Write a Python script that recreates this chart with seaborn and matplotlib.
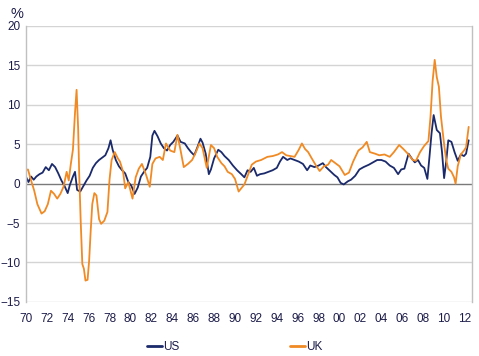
import numpy as np
import pandas as pd
import matplotlib
matplotlib.use('Agg')
import matplotlib.pyplot as plt
import seaborn as sns

# US series (decimal year, %)
us_year = [1970.0, 1970.25, 1970.5, 1970.75, 1971.0, 1971.3, 1971.6, 1971.9, 1972.2, 1972.5,
           1972.8, 1973.1, 1973.4, 1973.7, 1974.0, 1974.2, 1974.5, 1974.7, 1974.9, 1975.2,
           1975.5, 1975.8, 1976.1, 1976.4, 1976.7, 1977.0, 1977.3, 1977.6, 1977.9, 1978.1,
           1978.3, 1978.6, 1978.9, 1979.2, 1979.5, 1979.8, 1980.1, 1980.4, 1980.7, 1981.0,
           1981.3, 1981.6, 1981.9, 1982.1, 1982.3, 1982.6, 1982.9, 1983.2, 1983.5, 1983.8,
           1984.1, 1984.5, 1984.8, 1985.2, 1985.5, 1985.8, 1986.1, 1986.4, 1986.7, 1986.9,
           1987.2, 1987.5, 1987.7, 1988.0, 1988.4, 1988.7, 1989.0, 1989.4, 1989.8, 1990.2,
           1990.6, 1990.9, 1991.2, 1991.5, 1991.8, 1992.1, 1992.4, 1992.8, 1993.2, 1993.6,
           1994.0, 1994.3, 1994.6, 1995.0, 1995.3, 1995.7, 1996.1, 1996.5, 1996.9, 1997.2,
           1997.6, 1998.0, 1998.4, 1998.7, 1999.1, 1999.5, 1999.8, 2000.1, 2000.4, 2000.8,
           2001.1, 2001.5, 2001.9, 2002.3, 2002.8, 2003.2, 2003.6, 2004.0, 2004.4, 2004.8,
           2005.2, 2005.6, 2005.9, 2006.2, 2006.6, 2006.9, 2007.2, 2007.5, 2007.8, 2008.1,
           2008.4, 2008.6, 2008.8, 2009.0, 2009.3, 2009.6, 2009.8, 2010.0, 2010.2, 2010.4,
           2010.7, 2011.0, 2011.3, 2011.6, 2011.9, 2012.1, 2012.35]
us_val = [0.9, 0.2, 0.9, 0.5, 0.9, 1.2, 1.4, 2.1, 1.7, 2.5,
          2.1, 1.3, 0.4, -0.3, -1.2, -0.2, 0.9, 1.5, -0.8, -1.0,
          -0.3, 0.4, 1.0, 2.0, 2.6, 3.0, 3.3, 3.6, 4.5, 5.5,
          4.3, 3.0, 2.2, 1.7, 1.3, 0.2, -0.3, -1.3, -0.5, 0.9,
          1.5, 2.0, 3.4, 6.1, 6.7, 6.0, 5.1, 4.5, 4.2, 4.9,
          5.3, 6.1, 5.3, 5.1, 4.5, 4.0, 3.6, 4.6, 5.7, 5.2,
          3.8, 1.2, 1.8, 3.2, 4.3, 4.0, 3.5, 3.0, 2.3, 1.7,
          1.2, 0.8, 1.7, 1.5, 2.0, 1.0, 1.2, 1.3, 1.5, 1.7,
          2.0, 2.8, 3.4, 3.0, 3.2, 3.0, 2.8, 2.5, 1.7, 2.3,
          2.1, 2.3, 2.6, 2.1, 1.6, 1.1, 0.8, 0.1, -0.1, 0.3,
          0.5, 1.0, 1.8, 2.1, 2.4, 2.7, 3.0, 3.0, 2.8, 2.3,
          2.0, 1.2, 1.8, 1.9, 3.8, 3.2, 2.7, 3.0, 2.3, 2.0,
          0.6, 3.4, 6.4, 8.7, 6.8, 6.4, 4.0, 0.7, 2.8, 5.5,
          5.3, 4.0, 2.9, 3.7, 3.5, 3.8, 5.5]

# UK series (decimal year, %)
uk_year = [1970.0, 1970.2, 1970.5, 1970.8, 1971.1, 1971.5, 1971.8, 1972.1, 1972.4, 1972.7,
           1973.0, 1973.3, 1973.6, 1973.9, 1974.1, 1974.3, 1974.5, 1974.7, 1974.85, 1975.0,
           1975.1, 1975.25, 1975.4, 1975.55, 1975.7, 1975.9, 1976.05, 1976.2, 1976.35, 1976.55,
           1976.75, 1977.0, 1977.2, 1977.5, 1977.8, 1978.0, 1978.2, 1978.5, 1978.8, 1979.0,
           1979.3, 1979.5, 1979.8, 1980.2, 1980.5, 1980.8, 1981.1, 1981.5, 1981.85, 1982.1,
           1982.4, 1982.8, 1983.1, 1983.4, 1983.8, 1984.2, 1984.5, 1984.8, 1985.1, 1985.5,
           1985.9, 1986.2, 1986.6, 1986.9, 1987.3, 1987.7, 1988.0, 1988.3, 1988.7, 1989.0,
           1989.3, 1989.7, 1990.0, 1990.35, 1990.6, 1990.9, 1991.3, 1991.6, 1992.0, 1992.5,
           1993.1, 1993.6, 1994.1, 1994.5, 1994.9, 1995.3, 1995.7, 1996.1, 1996.4, 1996.7,
           1997.0, 1997.3, 1997.7, 1998.1, 1998.5, 1998.9, 1999.2, 1999.6, 2000.0, 2000.5,
           2000.9, 2001.3, 2001.8, 2002.2, 2002.6, 2002.9, 2003.4, 2003.8, 2004.3, 2004.8,
           2005.2, 2005.7, 2006.1, 2006.6, 2007.0, 2007.3, 2007.7, 2008.1, 2008.5, 2008.7,
           2008.9, 2009.1, 2009.3, 2009.5, 2009.7, 2010.0, 2010.2, 2010.4, 2010.7, 2010.95,
           2011.1, 2011.3, 2011.6, 2011.9, 2012.1, 2012.35]
uk_val = [1.7, 1.8, 0.4, -0.9, -2.6, -3.8, -3.5, -2.6, -0.9, -1.3,
          -1.9, -1.3, -0.4, 1.5, 0.4, 2.5, 4.3, 9.0, 11.9, 7.0,
          1.3, -5.0, -10.2, -10.8, -12.3, -12.2, -9.8, -6.0, -2.6, -1.2,
          -1.5, -4.5, -5.1, -4.7, -3.6, 0.5, 3.0, 4.0, 3.2, 2.8,
          1.5, -0.6, 0.2, -1.9, 0.8, 1.9, 2.5, 1.1, -0.4, 2.5,
          3.2, 3.4, 3.0, 5.1, 4.2, 4.0, 6.2, 4.2, 2.1, 2.5,
          3.0, 3.8, 5.1, 4.5, 2.0, 4.9, 4.5, 3.4, 2.6, 2.2,
          1.5, 1.2, 0.6, -1.0, -0.6, -0.1, 1.3, 2.4, 2.8, 3.0,
          3.4, 3.5, 3.7, 4.0, 3.6, 3.5, 3.4, 4.3, 5.1, 4.4,
          4.0, 3.3, 2.4, 1.6, 2.2, 2.4, 3.0, 2.6, 2.2, 1.1,
          1.4, 2.8, 4.2, 4.6, 5.3, 4.0, 3.8, 3.6, 3.7, 3.4,
          4.0, 4.9, 4.4, 3.7, 3.0, 2.9, 4.0, 4.8, 5.4, 8.5,
          13.0, 15.7, 13.5, 12.3, 8.5, 5.0, 3.0, 1.9, 1.5, 0.8,
          0.0, 2.2, 3.7, 4.2, 4.6, 7.2]

x_ticks = list(range(1970, 2013, 2))
x_labels = ['%02d' % (y % 100) for y in x_ticks]
y_ticks = [-15, -10, -5, 0, 5, 10, 15, 20]

df = pd.concat([
    pd.DataFrame({'year': us_year, 'value': us_val, 'series': 'US'}),
    pd.DataFrame({'year': uk_year, 'value': uk_val, 'series': 'UK'}),
])

sns.set_style('white')
plt.rcParams['font.family'] = ['Liberation Sans', 'DejaVu Sans']

text_col = '#1c1c4a'
fig = plt.figure(figsize=(4.79, 3.56), dpi=100)
ax = fig.add_axes([0.054, 0.152, 0.931, 0.775])

sns.lineplot(data=df, x='year', y='value', hue='series', estimator=None, sort=True,
             palette={'US': '#1b2a6b', 'UK': '#f08a24'}, linewidth=1.3, ax=ax, legend=False)

ax.set_xlim(1970, 2012.65)
ax.set_ylim(-15, 20)
ax.set_xticks(x_ticks)
ax.set_xticklabels(x_labels)
ax.set_yticks(y_ticks)
for y in y_ticks:
    if y != 0:
        ax.axhline(y, color='#d4d4d4', linewidth=1.0, zorder=0)
ax.axhline(0, color='#7a7a7a', linewidth=1.0, zorder=1)

ax.tick_params(axis='both', length=0, labelsize=8.5, labelcolor=text_col)
ax.tick_params(axis='x', pad=8)
ax.tick_params(axis='y', pad=4)
ax.set_xlabel('')
ax.set_ylabel('')
for s in ['top', 'bottom']:
    ax.spines[s].set_visible(False)
for s in ['left', 'right']:
    ax.spines[s].set_color('#c0c0c0')
    ax.spines[s].set_linewidth(1.0)

fig.text(0.022, 0.962, '%', fontsize=10.5, color=text_col, va='center', ha='left')

handles = [plt.Line2D([], [], color='#1b2a6b', linewidth=2),
           plt.Line2D([], [], color='#f08a24', linewidth=2)]
fig.legend(handles, ['US', 'UK'], loc='center', bbox_to_anchor=(0.49, 0.025), ncol=2,
           frameon=False, fontsize=8.5, handlelength=1.3, handletextpad=0.1,
           columnspacing=9.3, labelcolor=text_col)

fig.savefig('out.png', dpi=100)
